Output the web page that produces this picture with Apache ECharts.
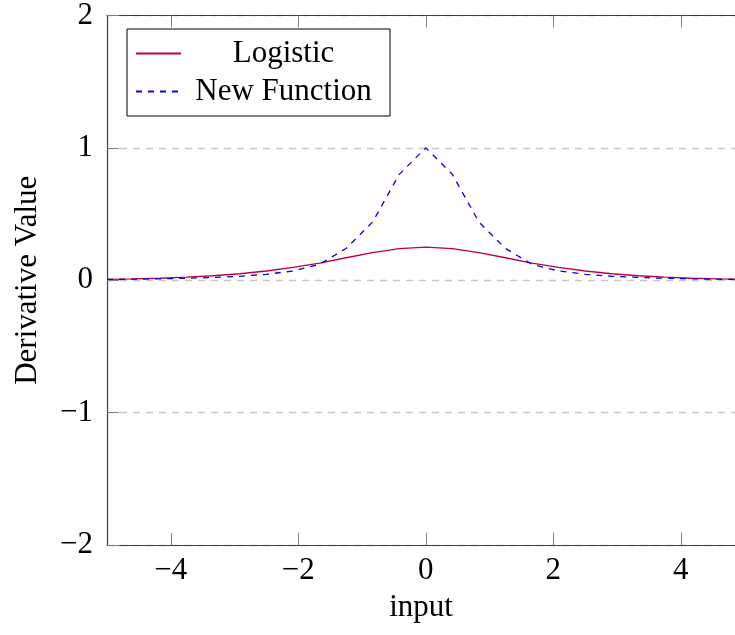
<!DOCTYPE html>
<html>
<head>
<meta charset="utf-8">
<script src="https://cdn.jsdelivr.net/npm/echarts@6/dist/echarts.min.js"></script>
<style>
html,body{margin:0;padding:0;background:#fff;}
#chart{width:735px;height:635px;}
</style>
</head>
<body>
<div id="chart"></div>
<script>
// Sample positions (x)
const xs = [-5, -4.583, -4.167, -3.75, -3.333, -2.917, -2.5, -2.083, -1.667, -1.25, -0.833, -0.417, 0,
            0.417, 0.833, 1.25, 1.667, 2.083, 2.5, 2.917, 3.333, 3.75, 4.167, 4.583, 5];
// Logistic derivative values
const logistic = [0.007, 0.010, 0.015, 0.023, 0.034, 0.049, 0.070, 0.098, 0.13, 0.17, 0.209, 0.239, 0.25,
                  0.239, 0.209, 0.17, 0.13, 0.098, 0.070, 0.049, 0.034, 0.023, 0.015, 0.010, 0.007];
// New function derivative values
const newFunction = [0.006, 0.008, 0.011, 0.015, 0.021, 0.030, 0.045, 0.070, 0.12, 0.24, 0.44, 0.80, 1.0,
                     0.80, 0.44, 0.24, 0.12, 0.070, 0.045, 0.030, 0.021, 0.015, 0.011, 0.008, 0.006];
const xTicks = [-4, -2, 0, 2, 4];
const seriesNames = ['Logistic', 'New Function'];
// The visible x-range: the picture is cut just before x = 5
const xMin = -5, xMaxVisible = 4.85;

const FONT = '"Liberation Serif", "DejaVu Serif", serif';
const fmt = v => String(v).replace('-', '\u2212');

const chart = echarts.init(document.getElementById('chart'), null, {renderer: 'canvas'});
const axisLineStyle = {color: '#404040', width: 1.2};
chart.setOption({
  animation: false,
  backgroundColor: '#fff',
  grid: {left: 107, right: 0, top: 12, bottom: 90, containLabel: false},
  legend: {
    orient: 'vertical',
    left: 127, top: 29,
    padding: [9, 9, 9, 8],
    itemWidth: 45, itemHeight: 14, itemGap: 7,
    borderColor: '#000', borderWidth: 1, backgroundColor: '#fff',
    itemStyle: {opacity: 0},
    data: seriesNames,
    formatter: '{c|{name}}',
    textStyle: {
      fontFamily: FONT, fontSize: 31, color: '#000', lineHeight: 30,
      rich: {c: {width: 195, align: 'center', fontFamily: FONT, fontSize: 31, lineHeight: 30}}
    }
  },
  xAxis: [{
    type: 'value', min: xMin, max: xMaxVisible, position: 'bottom',
    name: 'input', nameLocation: 'middle', nameGap: 47,
    nameTextStyle: {fontFamily: FONT, fontSize: 31, color: '#000'},
    axisLine: {show: true, onZero: false, lineStyle: axisLineStyle},
    axisTick: {show: true, inside: true, length: 12, customValues: xTicks, lineStyle: {color: '#808080', width: 1}},
    axisLabel: {customValues: xTicks, formatter: fmt, fontFamily: FONT, fontSize: 31, color: '#000', margin: 10},
    splitLine: {show: false}
  }, {
    type: 'value', min: xMin, max: xMaxVisible, position: 'top',
    axisLine: {show: true, onZero: false, lineStyle: axisLineStyle},
    axisTick: {show: true, inside: true, length: 12, customValues: xTicks, lineStyle: {color: '#808080', width: 1}},
    axisLabel: {show: false},
    splitLine: {show: false}
  }],
  yAxis: [{
    type: 'value', min: -2, max: 2, interval: 1, position: 'left',
    name: 'Derivative Value', nameLocation: 'middle', nameGap: 64, nameRotate: 90,
    nameTextStyle: {fontFamily: FONT, fontSize: 31, color: '#000'},
    axisLine: {show: true, onZero: false, lineStyle: axisLineStyle},
    axisTick: {show: true, inside: true, length: 12, lineStyle: {color: '#808080', width: 1}},
    axisLabel: {formatter: fmt, fontFamily: FONT, fontSize: 31, color: '#000', margin: 14},
    splitLine: {show: true, lineStyle: {color: '#c8c8c8', width: 1.3, type: [7, 6]}}
  }],
  series: [{
    name: seriesNames[0], type: 'line', xAxisIndex: 0, yAxisIndex: 0,
    data: xs.map((x, i) => [x, logistic[i]]),
    showSymbol: false, symbol: 'none', smooth: false,
    lineStyle: {color: '#bf0040', width: 1.3},
    itemStyle: {color: '#bf0040'},
    z: 3
  }, {
    name: seriesNames[1], type: 'line', xAxisIndex: 0, yAxisIndex: 0,
    data: xs.map((x, i) => [x, newFunction[i]]),
    showSymbol: false, symbol: 'none', smooth: false,
    lineStyle: {color: '#0000ff', width: 1.3, type: [6, 6]},
    itemStyle: {color: '#0000ff'},
    z: 4
  }]
});
</script>
</body>
</html>
